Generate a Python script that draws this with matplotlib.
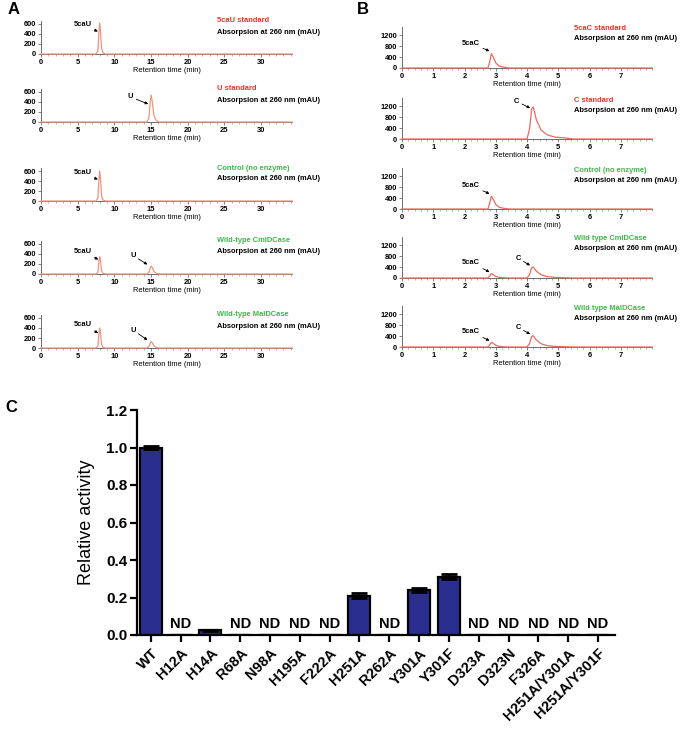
import numpy as np
import matplotlib
matplotlib.use("Agg")
import matplotlib.pyplot as plt
from matplotlib.ticker import MultipleLocator

plt.rcParams['font.family'] = ['Liberation Sans', 'DejaVu Sans']
plt.rcParams['font.weight'] = 'bold'

# ---- Panel A: 5caU / U chromatograms (time min, absorbance mAU) ----
a_titles = ['5caU standard', 'U standard', 'Control (no enzyme)',
            'Wild-type CmlDCase', 'Wild-type MalDCase']
a_title_colors = ['red', 'red', 'green', 'green', 'green']

a_5cau_t = [0, 7.5, 7.75, 7.9, 8.0, 8.1, 8.25, 8.45, 8.8, 34.2]
a_u_t = [0, 14.4, 14.7, 14.9, 15.0, 15.15, 15.4, 15.7, 16.1, 34.2]
a_both_t = [0, 7.5, 7.75, 7.9, 8.0, 8.1, 8.25, 8.45, 8.8,
            14.4, 14.7, 14.9, 15.0, 15.15, 15.4, 15.7, 16.1, 34.2]

a_traces = [
    (a_5cau_t, [0, 0, 60, 450, 620, 480, 120, 20, 0, 0]),
    (a_u_t, [0, 0, 80, 430, 540, 420, 120, 30, 0, 0]),
    (a_5cau_t, [0, 0, 60, 440, 600, 460, 110, 20, 0, 0]),
    (a_both_t, [0, 0, 40, 260, 350, 270, 70, 10, 0,
                0, 30, 130, 160, 130, 50, 15, 0, 0]),
    (a_both_t, [0, 0, 40, 300, 400, 300, 80, 10, 0,
                0, 25, 105, 130, 105, 40, 10, 0, 0]),
]
# (label, text x, text y, arrow x, arrow y)
a_notes = [
    [('5caU', 6.9, 590, 7.75, 450)],
    [('U', 12.6, 500, 14.6, 360)],
    [('5caU', 6.9, 570, 7.75, 430)],
    [('5caU', 6.9, 450, 7.8, 290), ('U', 12.9, 370, 14.5, 190)],
    [('5caU', 6.9, 460, 7.8, 300), ('U', 12.9, 360, 14.5, 160)],
]

# ---- Panel B: 5caC / C chromatograms ----
b_titles = ['5caC standard', 'C standard', 'Control (no enzyme)',
            'Wild type CmlDCase', 'Wild type MalDCase']
b_title_colors = ['red', 'red', 'green', 'green', 'green']

b_5cac_t = [0, 2.75, 2.8, 2.86, 2.92, 3.0, 3.1, 3.25, 3.45, 8.0]
b_c_t = [0, 4.0, 4.08, 4.15, 4.2, 4.3, 4.45, 4.65, 4.9, 5.2, 5.5, 8.0]
b_both_t = [0, 2.75, 2.8, 2.86, 2.92, 3.0, 3.1, 3.25, 3.45,
            4.0, 4.08, 4.15, 4.2, 4.3, 4.45, 4.65, 4.9, 5.2, 5.5, 8.0]

b_traces = [
    (b_5cac_t, [0, 0, 200, 520, 400, 190, 80, 30, 0, 0]),
    (b_c_t, [0, 0, 350, 1100, 1170, 700, 330, 150, 70, 40, 0, 0]),
    (b_5cac_t, [0, 0, 180, 470, 360, 170, 70, 25, 0, 0]),
    (b_both_t, [0, 0, 60, 160, 120, 60, 25, 8, 0,
                0, 120, 380, 400, 250, 120, 50, 20, 10, 0, 0]),
    (b_both_t, [0, 0, 65, 170, 130, 65, 25, 8, 0,
                0, 120, 390, 410, 260, 120, 50, 20, 10, 0, 0]),
]
b_notes = [
    [('5caC', 2.5, 900, 2.8, 620)],
    [('C', 3.75, 1380, 4.1, 1130)],
    [('5caC', 2.5, 850, 2.8, 560)],
    [('5caC', 2.5, 560, 2.8, 220), ('C', 3.8, 720, 4.1, 460)],
    [('5caC', 2.5, 560, 2.8, 230), ('C', 3.8, 720, 4.1, 470)],
]

# ---- Panel C: relative activity ----
mutants = ['WT', 'H12A', 'H14A', 'R68A', 'N98A', 'H195A', 'F222A', 'H251A',
           'R262A', 'Y301A', 'Y301F', 'D323A', 'D323N', 'F326A',
           'H251A/Y301A', 'H251A/Y301F']
activity = [1.0, 0, 0.025, 0, 0, 0, 0, 0.21, 0, 0.24, 0.31, 0, 0, 0, 0, 0]
activity_err = [0.01, 0, 0.004, 0, 0, 0, 0, 0.012, 0, 0.01, 0.013, 0, 0, 0, 0, 0]
not_detected = [False, True, False, True, True, True, True, False,
                True, False, False, True, True, True, True, True]

W, H = 685, 729
fig = plt.figure(figsize=(W / 100, H / 100), dpi=100)


def chrom_panel(x0, x1, bottoms, height, xlim, ylim, xticks, yticks, minor,
                traces, notes, titles, colors, line_color, title_x, title_dy):
    for i, b in enumerate(bottoms):
        ax = fig.add_axes([x0 / W, 1 - b / H, (x1 - x0) / W, height / H])
        t, y = traces[i]
        ax.plot(t, y, color=line_color, lw=0.9, clip_on=False, zorder=3)
        ax.set_xlim(*xlim)
        ax.set_ylim(*ylim)
        ax.set_xticks(xticks)
        ax.set_yticks(yticks)
        ax.xaxis.set_minor_locator(MultipleLocator(minor))
        for s in ['top', 'right']:
            ax.spines[s].set_visible(False)
        for s in ['left', 'bottom']:
            ax.spines[s].set_linewidth(0.6)
            ax.spines[s].set_color('#555555')
        ax.tick_params(labelsize=5.4, length=2, width=0.5, pad=1.5, colors='#555555',
                       labelcolor='black')
        ax.tick_params(which='minor', length=1.2, width=0.4, colors='#777777')
        ax.set_xlabel('Retention time (min)', fontsize=5.4, labelpad=1)
        for lab, tx, ty, px, py in notes[i]:
            ax.annotate(lab, xy=(px, py), xytext=(tx, ty), fontsize=5.4,
                        ha='right', va='center',
                        arrowprops=dict(arrowstyle='-|>', color='black', lw=0.6,
                                        mutation_scale=4, shrinkA=0, shrinkB=0))
        ax.text(title_x, 1 + title_dy[0] / height, titles[i], color=colors[i],
                transform=ax.transAxes, fontsize=5.4, va='center', ha='left')
        ax.text(title_x, 1 + title_dy[1] / height, 'Absorpsion at 260 nm (mAU)',
                transform=ax.transAxes, fontsize=5.4, va='center', ha='left')


green = '#3cb84a'
red = '#f0302a'
title_colors_a = [red if c == 'red' else green for c in a_title_colors]
title_colors_b = [red if c == 'red' else green for c in b_title_colors]

chrom_panel(41, 292, [54, 122, 201, 274, 348], 33, (0, 34.2), (0, 660),
            [0, 5, 10, 15, 20, 25, 30], [0, 200, 400, 600], 1,
            a_traces, a_notes, a_titles, title_colors_a, '#f2937c', 0.70, (0, -11))
chrom_panel(402, 652, [68, 139, 209, 278, 347], 41, (0, 8.0), (0, 1500),
            [0, 1, 2, 3, 4, 5, 6, 7], [0, 400, 800, 1200], 0.2,
            b_traces, b_notes, b_titles, title_colors_b, '#ee6a5e', 0.69, (-2, -12))

# ---- Panel C ----
axc = fig.add_axes([137 / W, 1 - 635 / H, (615 - 137) / W, 225 / H])
x = np.arange(len(mutants))
axc.bar(x, activity, width=0.74, color='#2a2f8f', edgecolor='black', linewidth=1.6,
        yerr=activity_err, error_kw=dict(ecolor='black', elinewidth=1.6, capsize=6,
                                         capthick=2))
for xi, nd in zip(x, not_detected):
    if nd:
        axc.text(xi, 0.02, 'ND', ha='center', va='bottom', fontsize=10.5)
axc.set_xlim(-0.46, 15.57)
axc.set_ylim(0, 1.2)
axc.set_yticks([0, 0.2, 0.4, 0.6, 0.8, 1.0, 1.2])
axc.set_yticklabels(['0.0', '0.2', '0.4', '0.6', '0.8', '1.0', '1.2'])
axc.set_xticks(x)
axc.set_xticklabels(mutants, rotation=45, ha='right', rotation_mode='anchor')
for s in ['top', 'right']:
    axc.spines[s].set_visible(False)
for s in ['left', 'bottom']:
    axc.spines[s].set_linewidth(1.6)
axc.tick_params(axis='y', labelsize=11, length=5, width=1.6, pad=2)
axc.tick_params(axis='x', labelsize=10.5, length=5, width=1.6, pad=3)
axc.set_ylabel('Relative activity', fontsize=13, fontweight='normal', labelpad=8)

fig.text(8 / W, 1 - 10 / H, 'A', fontsize=12, va='center', ha='left')
fig.text(357 / W, 1 - 10 / H, 'B', fontsize=12, va='center', ha='left')
fig.text(5 / W, 1 - 408 / H, 'C', fontsize=12, va='center', ha='left')

fig.savefig('out.png', dpi=100)
